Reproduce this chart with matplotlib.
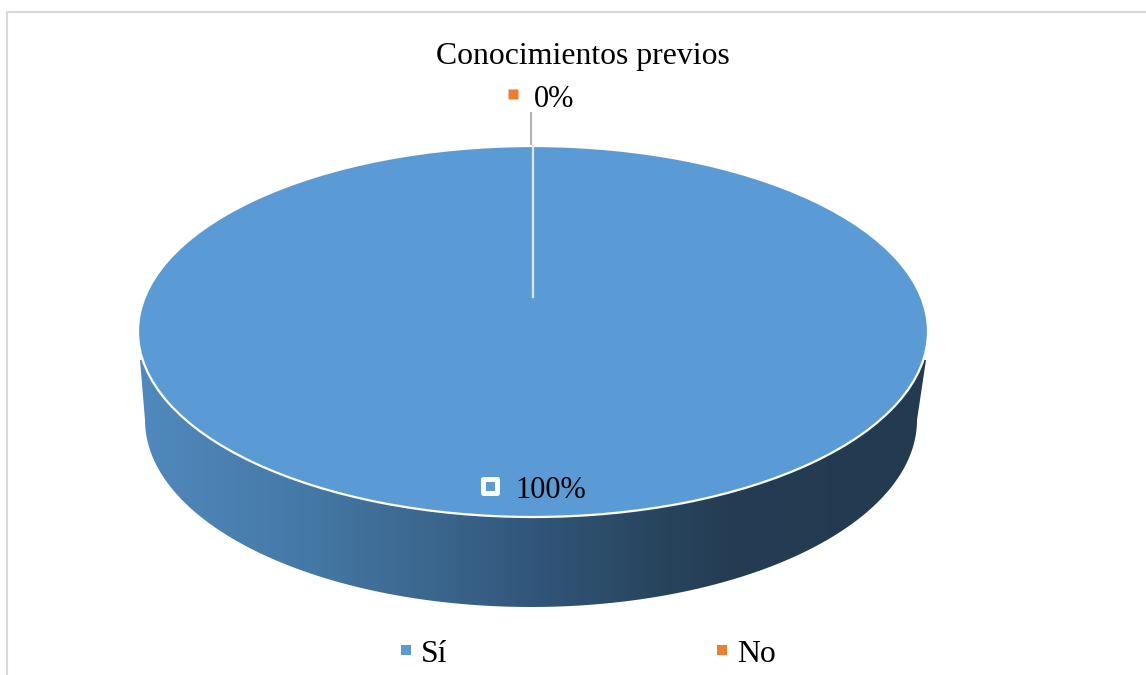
import numpy as np
import matplotlib
matplotlib.use('Agg')
import matplotlib.pyplot as plt
from matplotlib.colors import LinearSegmentedColormap
from matplotlib.markers import MarkerStyle
from matplotlib.patches import Polygon

plt.rcParams['font.family'] = ['Liberation Serif', 'DejaVu Serif']

titulo = 'Conocimientos previos'
categorias = ['Sí', 'No']
valores = [100, 0]
colores = ['#5b9bd5', '#ed7d31']

W, H = 1146, 675
# ellipse of the pie top, in pixels
CX, CY, RX, RY = 533, 331.5, 395, 185.5


# pixels of the image -> data coords of the unit pie
def px(x, y):
    return (x - CX) / RX, (CY - y) / RY


fig = plt.figure(figsize=(W / 100, H / 100), dpi=100)
ax = fig.add_axes([0, 0, 1, 1])

wedges, _ = ax.pie(valores, colors=colores, startangle=90, counterclock=False,
                   wedgeprops={'edgecolor': 'white', 'linewidth': 1.6, 'zorder': 3})
wedges[1].set_edgecolor('none')
ax.set_aspect('auto')

# side of the 3D disc: gradient clipped to the outline
t = np.linspace(0, np.pi, 200)
bx = 531 + 386 * np.cos(t)
by = 420 + 187 * np.sin(t)
xs, ys = px(np.r_[926, bx, 140], np.r_[360, by, 360])
cote = Polygon(np.c_[xs, ys], closed=True, facecolor='none', edgecolor='none')
ax.add_patch(cote)
cmap = LinearSegmentedColormap.from_list('cote', [
    (0.0, '#5089bd'), (0.2, '#457aa8'), (0.4, '#3a6389'), (0.5, '#31567b'),
    (0.65, '#29465f'), (0.75, '#243d54'), (1.0, '#233b50')])
x0, y0 = px(140, 350)
x1, y1 = px(926, 620)
img = ax.imshow(np.linspace(0, 1, 256)[None, :], cmap=cmap, aspect='auto',
                extent=(x0, x1, y1, y0), zorder=1)
img.set_clip_path(cote)

ax.set_xlim(px(0, 0)[0], px(W, 0)[0])
ax.set_ylim(px(0, H)[1], px(0, 0)[1])
ax.set_frame_on(False)

# chart frame, only top and left are visible in the crop
ax.plot(*zip(px(7, H), px(7, 12), px(W, 12)), color='#d9d9d9', lw=1.5,
        solid_joinstyle='miter', zorder=2)

# leader line of the 0% slice
ax.plot(*zip(px(531, 113), px(531, 146)), color='#b3b3b3', lw=1.5, zorder=2)
ax.plot(*zip(px(533, 146), px(533, 297)), color='#dbe8f5', lw=1.6, zorder=4)

ax.text(*px(583, 56), titulo, fontsize=22.9, ha='center', va='center', color='black', zorder=6)

# data labels
ax.text(*px(534, 99), f'{valores[1]}%', fontsize=22, va='center', color='black', zorder=6)
ax.plot(*px(513, 94), marker='s', ms=7.5, color=colores[1], mec='none', zorder=6)
ax.text(*px(515, 491), f'{valores[0]}%', fontsize=22, va='center', color='black', zorder=6)
ax.plot(*px(490, 486), marker=MarkerStyle('s', joinstyle='round'), ms=10.5,
        mfc=colores[0], mec='white', mew=3.6, zorder=6)

# legend
leg = ax.legend(wedges, categorias, loc='center left', bbox_to_anchor=(401 / W, 1 - 654 / H),
                bbox_transform=fig.transFigure, ncol=2, frameon=False, fontsize=22.9,
                handlelength=0.33, handleheight=0.1, handletextpad=0.31,
                columnspacing=8.46, borderpad=0, borderaxespad=0)
for h, c in zip(leg.legend_handles, colores):
    h.set_facecolor(c)
    h.set_edgecolor('none')

fig.savefig('out.png', dpi=100)
